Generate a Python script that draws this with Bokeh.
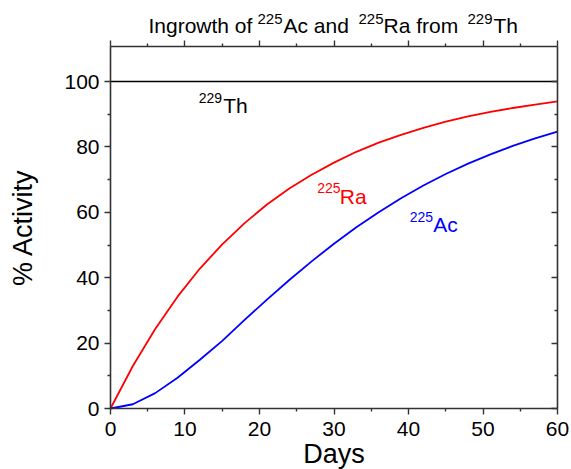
from bokeh.plotting import figure
from bokeh.models import LinearAxis, Label, Range1d, FixedTicker
from bokeh.embed import file_html
from bokeh.resources import INLINE

# ---- data ----
days = [0, 3, 6, 9, 12, 15, 18, 21, 24, 27, 30, 33, 36, 39, 42, 45, 48, 51, 54, 57, 60]
ra225 = [0.0, 13.0, 24.3, 34.2, 42.8, 50.2, 56.7, 62.4, 67.3, 71.5, 75.2, 78.5,
         81.3, 83.7, 85.8, 87.7, 89.3, 90.7, 91.9, 92.9, 93.9]
ac225 = [0.0, 1.3, 4.7, 9.4, 14.9, 20.7, 27.1, 33.3, 39.3, 45.0, 50.4, 55.4,
         60.0, 64.3, 68.2, 71.7, 74.9, 77.7, 80.3, 82.6, 84.7]
th_days = [0, 60]
th229 = [100, 100]

x_ticks = [0, 10, 20, 30, 40, 50, 60]
x_minor = [5, 15, 25, 35, 45, 55]
y_ticks = [0, 20, 40, 60, 80, 100]
y_minor = [10, 30, 50, 70, 90]

X_MIN, X_MAX = 0, 60        # boxed plot area
Y_MIN, Y_TOP = 0, 110.7
# the frame covers the whole canvas so that title and axis texts sit inside it
X_VIEW = (-14.765, 61.879)
Y_VIEW = (-18.654, 124.771)
PX_PER_Y = 3.27             # pixels per y unit (for text baseline correction)
BASELINE_FIX = 0.37         # em; lifts label text onto its measured baseline

FONT = "Liberation Sans"
AXIS_COLOR = "#333333"

p = figure(width=571, height=469, x_range=Range1d(*X_VIEW), y_range=Range1d(*Y_VIEW),
           output_backend="svg", toolbar_location=None,
           min_border_left=0, min_border_right=0, min_border_top=0, min_border_bottom=0)
p.xgrid.visible = False
p.ygrid.visible = False
p.outline_line_color = None
p.background_fill_color = "white"
p.border_fill_color = "white"

xt = FixedTicker(ticks=x_ticks, minor_ticks=x_minor)
yt = FixedTicker(ticks=y_ticks, minor_ticks=y_minor)


def style(ax, labels=True, inward=False):
    ax.axis_line_color = AXIS_COLOR
    ax.axis_line_width = 1.6
    ax.major_tick_line_color = AXIS_COLOR
    ax.minor_tick_line_color = AXIS_COLOR
    ax.major_tick_line_width = 1.4
    ax.minor_tick_line_width = 1.4
    if inward:
        ax.major_tick_in, ax.major_tick_out = 6, 0
        ax.minor_tick_in, ax.minor_tick_out = 3, 0
    else:
        ax.major_tick_in, ax.major_tick_out = 0, 6
        ax.minor_tick_in, ax.minor_tick_out = 0, 3
    if labels:
        ax.major_label_text_font = FONT
        ax.major_label_text_font_size = "21px"
        ax.major_label_text_color = "black"
        ax.axis_label_text_font = FONT
        ax.axis_label_text_font_size = "27px"
        ax.axis_label_text_font_style = "normal"
        ax.axis_label_text_color = "black"
    else:
        ax.major_label_standoff = 0


bottom = p.xaxis[0]
bottom.ticker = xt
bottom.fixed_location = Y_MIN
bottom.bounds = (X_MIN, X_MAX)
style(bottom)
bottom.axis_label = "Days"
bottom.major_label_standoff = 7
bottom.axis_label_standoff = 0

left = p.yaxis[0]
left.ticker = yt
left.fixed_location = X_MIN
left.bounds = (Y_MIN, Y_TOP)
style(left)
left.axis_label = "% Activity"
left.major_label_standoff = 5
left.axis_label_standoff = 23

top = LinearAxis(ticker=xt, fixed_location=Y_TOP, bounds=(X_MIN, X_MAX))
style(top, labels=False)
top.major_label_overrides = {t: "" for t in x_ticks}
p.add_layout(top, "above")

right = LinearAxis(ticker=yt, fixed_location=X_MAX, bounds=(Y_MIN, Y_TOP))
style(right, labels=False, inward=True)
right.major_label_overrides = {t: "" for t in y_ticks}
p.add_layout(right, "right")

# ---- curves ----
p.line(th_days, th229, line_color="black", line_width=1.6)
p.line(days, ra225, line_color="#FF0000", line_width=1.8)
p.line(days, ac225, line_color="#0000FF", line_width=1.8)


def lab(x, y, text, size, color):
    lift = BASELINE_FIX * size / PX_PER_Y
    p.add_layout(Label(x=x, y=y + lift, text=text, text_font=FONT,
                       text_font_size=f"{size}px", text_color=color,
                       text_align="left", text_baseline="alphabetic"))


# title pieces (with superscripts)
lab(5.10, 114.7, "Ingrowth of", 21, "black")
lab(19.73, 117.4, "225", 15, "black")
lab(23.22, 114.7, "Ac and", 21, "black")
lab(33.29, 117.4, "225", 15, "black")
lab(36.64, 114.7, "Ra from", 21, "black")
lab(47.92, 117.4, "229", 15, "black")
lab(51.41, 114.7, "Th", 21, "black")

# curve labels
lab(11.85, 93.5, "229", 14, "black")
lab(15.13, 90.3, "Th", 21, "black")
lab(27.74, 66.0, "225", 14, "#FF0000")
lab(30.78, 62.6, "Ra", 21, "#FF0000")
lab(40.17, 57.0, "225", 14, "#0000FF")
lab(43.31, 53.9, "Ac", 21, "#0000FF")

open("out.html", "w").write(file_html(p, INLINE))
